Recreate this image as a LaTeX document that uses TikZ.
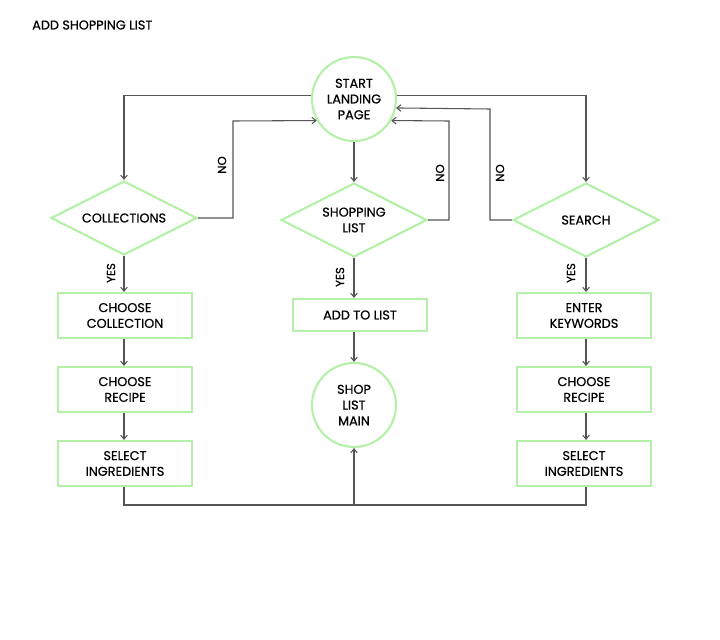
\documentclass[tikz,border=0pt]{standalone}
\usepackage{fontspec}
\setmainfont{Poppins}[FakeBold=0.6, AutoFakeBold=0.6]
\usetikzlibrary{shapes.geometric,arrows.meta}
\definecolor{boxgreen}{HTML}{B4F0A8}
\definecolor{linegray}{HTML}{555555}
\tikzset{
  lbl/.style={font=\fontsize{9.6}{11.8}\selectfont\bfseries, align=center, text=black},
  stepbox/.style={lbl, draw=boxgreen, line width=1.6pt, minimum width=100.5pt, inner sep=0pt},
  decide/.style={lbl, draw=boxgreen, line width=1.6pt, diamond, aspect=1.97, minimum width=109.5pt, minimum height=55.5pt, inner sep=0pt},
  term/.style={lbl, draw=boxgreen, line width=1.6pt, circle, minimum size=63pt, inner sep=0pt},
  conn/.style={draw=linegray, line width=0.8pt, -{Straight Barb[length=3pt,width=5pt]}},
  plain/.style={draw=linegray, line width=0.8pt},
  tag/.style={font=\fontsize{8.8}{10}\selectfont\bfseries, rotate=90, text=black}
}
\begin{document}
\begin{tikzpicture}[x=0.75pt,y=-0.75pt]
\useasboundingbox (0,0) rectangle (720,639);
\node[lbl, anchor=west, inner sep=0pt] (title) at (32,25) {ADD SHOPPING LIST};

\node[term] (start) at (354,99) {START\\LANDING\\PAGE};
\node[decide] (coll) at (124,218) {COLLECTIONS};
\node[decide] (shop) at (354,220) {SHOPPING\\LIST};
\node[decide] (search) at (586,220) {SEARCH};

\node[stepbox, minimum height=33.75pt] (cc) at (125,315.5) {CHOOSE\\COLLECTION};
\node[stepbox, minimum height=33.75pt] (cr1) at (125,389.5) {CHOOSE\\RECIPE};
\node[stepbox, minimum height=33.75pt] (si1) at (125,463.5) {SELECT\\INGREDIENTS};

\node[stepbox, minimum height=24pt] (add) at (360,315) {ADD TO LIST};
\node[term] (main) at (354,405) {SHOP\\LIST\\MAIN};

\node[stepbox, minimum height=33.75pt] (ek) at (584,315.5) {ENTER\\KEYWORDS};
\node[stepbox, minimum height=33.75pt] (cr2) at (584,389.5) {CHOOSE\\RECIPE};
\node[stepbox, minimum height=33.75pt] (si2) at (584,463.5) {SELECT\\INGREDIENTS};

% start to decisions
\draw[conn] (start.175) -| (coll.north);
\draw[conn] (start.5) -| (search.north);
\draw[conn] (start.south) -- (shop.north);

% NO loops
\coordinate (c1) at (233,121);
\draw[conn] (coll.east) -| (c1) -- (start.210);
\node[tag] (no1) at (222,165) {NO};
\coordinate (c2) at (449,121);
\draw[conn] (shop.east) -| (c2) -- (start.-30);
\node[tag] (no2) at (440,173) {NO};
\coordinate (c3) at (490,109);
\draw[conn] (search.west) -| (c3) -- (start.-12);
\node[tag] (no3) at (500,173) {NO};

% YES branches
\draw[conn] (coll.south) -- (coll.south |- cc.north);
\node[tag] (y1) at (111,273) {YES};
\draw[conn] (shop.south) -- (shop.south |- add.north);
\node[tag] (y2) at (340,277) {YES};
\draw[conn] (search.south) -- (search.south |- ek.north);
\node[tag] (y3) at (571,273) {YES};

% chains
\draw[conn] (cc.south -| coll.south) -- (cr1.north -| coll.south);
\draw[conn] (cr1.south -| coll.south) -- (si1.north -| coll.south);
\draw[conn] (add.south -| main.north) -- (main.north);
\draw[conn] (ek.south -| search.south) -- (cr2.north -| search.south);
\draw[conn] (cr2.south -| search.south) -- (si2.north -| search.south);

% bottom join
\coordinate (j) at (354,505);
\draw[plain] (si1.south -| coll.south) |- (j) -| (si2.south -| search.south);
\draw[conn] (j) -- (main.south);
\end{tikzpicture}
\end{document}
